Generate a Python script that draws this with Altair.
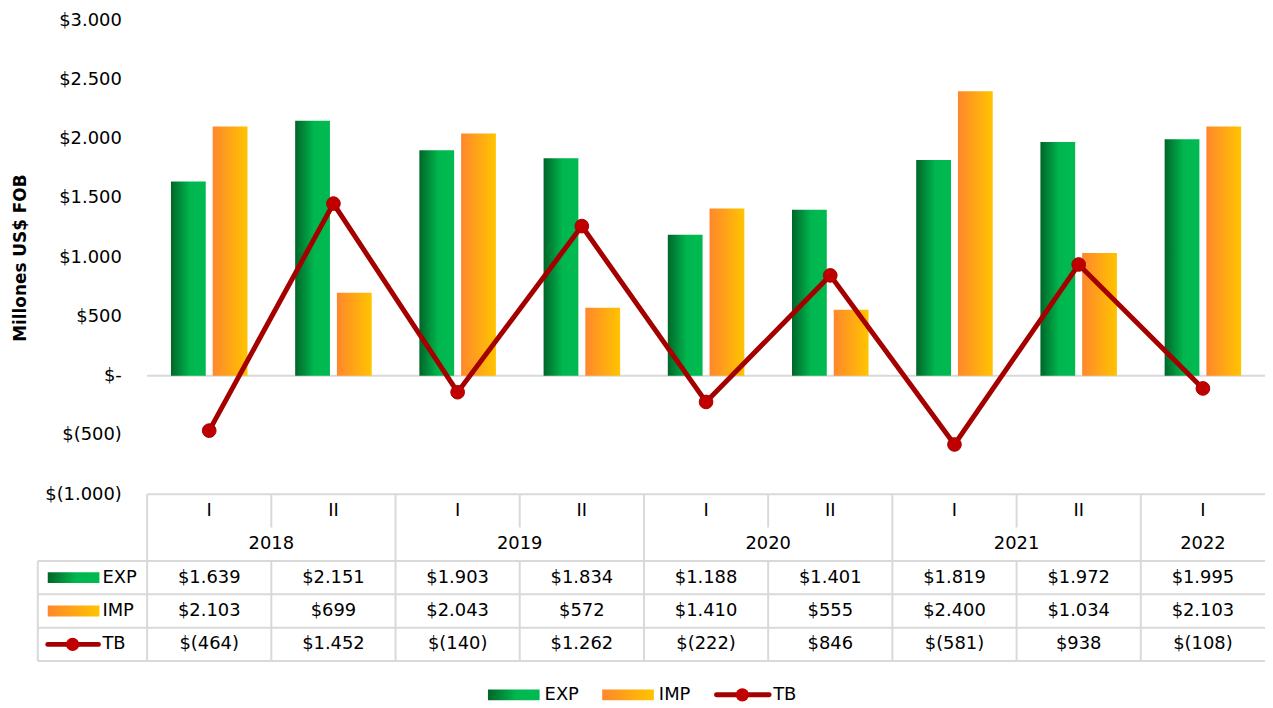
import altair as alt
import pandas as pd

# ---------------- data ----------------
years = ["2018", "2018", "2019", "2019", "2020", "2020", "2021", "2021", "2022"]
periods = ["I", "II", "I", "II", "I", "II", "I", "II", "I"]
exp_vals = [1639, 2151, 1903, 1834, 1188, 1401, 1819, 1972, 1995]
imp_vals = [2103, 699, 2043, 572, 1410, 555, 2400, 1034, 2103]
tb_vals = [-464, 1452, -140, 1262, -222, 846, -581, 938, -108]
y_ticks = [-1000, -500, 0, 500, 1000, 1500, 2000, 2500, 3000]
y_tick_labels = ["$(1.000)", "$(500)", "$-", "$500", "$1.000", "$1.500", "$2.000", "$2.500", "$3.000"]
series = ["EXP", "IMP", "TB"]
table_rows = ["cat", "year", "EXP", "IMP", "TB"]

# ---------------- layout / style ----------------
FONT = "DejaVu Sans"
W = 1125
H = 690
PLOT_H = 477
TABLE_BOTTOM = 645
GRID = "#D9D9D9"

cats = [f"{y}-{p}" for y, p in zip(years, periods)]


def money(v):
    s = f"{abs(v):,}".replace(",", ".")
    return f"$({s})" if v < 0 else f"${s}"


df = pd.DataFrame({"cat": cats, "year": years, "period": periods,
                   "EXP": exp_vals, "IMP": imp_vals, "TB": tb_vals})
long = df.melt(id_vars=["cat", "year", "period"], value_vars=series,
               var_name="series", value_name="value")
long["label"] = long["value"].map(money)

green = alt.Gradient(gradient="linear", x1=0, x2=1, y1=0, y2=0,
                     stops=[alt.GradientStop(color="#006629", offset=0),
                            alt.GradientStop(color="#00B74F", offset=0.55),
                            alt.GradientStop(color="#00BA50", offset=1)])
orange = alt.Gradient(gradient="linear", x1=0, x2=1, y1=0, y2=0,
                      stops=[alt.GradientStop(color="#FF872C", offset=0),
                             alt.GradientStop(color="#FFC400", offset=1)])
RED_LINE = "#A50000"
RED_DOT = "#C00000"
SWATCH = "M-1,-0.21H1V0.21H-1Z"

xsc = alt.Scale(type="band", domain=cats, range=[0, W], paddingInner=0, paddingOuter=0)
ysc = alt.Scale(domain=[-1000, 3000], range=[PLOT_H, 0], nice=False)
tsc = alt.Scale(type="band", domain=table_rows, range=[PLOT_H, TABLE_BOTTOM],
                paddingInner=0, paddingOuter=0)
offsc = alt.Scale(domain=["EXP", "IMP"], paddingInner=0.1667, paddingOuter=0.571)


def X(bp=None, field="cat:N"):
    if bp is None:
        return alt.X(field, scale=xsc, axis=None)
    return alt.X(field, scale=xsc, axis=None, bandPosition=bp)


def TY(field="row:N", bp=None):
    if bp is None:
        return alt.Y(field, scale=tsc, axis=None)
    return alt.Y(field, scale=tsc, axis=None, bandPosition=bp)


label_expr = " : ".join(
    f"datum.value == {v} ? '{t}'" for v, t in zip(y_ticks, y_tick_labels)) + " : ''"

yaxis = alt.Axis(values=y_ticks, labelExpr=label_expr, labelFont=FONT, labelFontSize=18,
                 labelColor="#000000", labelPadding=26, ticks=False, domain=False, grid=False,
                 title="Millones US$ FOB", titleFont=FONT, titleFontSize=17,
                 titleFontWeight="bold", titleColor="#000000", titleX=-127, titleY=239,
                 titleAngle=270, titleAlign="center", titleBaseline="middle")

text_style = dict(font=FONT, fontSize=18, color="#000000", baseline="middle")

# ---------------- plot layers ----------------
zero = alt.Chart(pd.DataFrame({"v": [0]})).mark_rule(color=GRID, strokeWidth=2).encode(
    y=alt.Y("v:Q", scale=ysc, axis=None))

bars_exp = alt.Chart(long).transform_filter(alt.datum.series == "EXP").mark_bar(
    fill=green, strokeWidth=0).encode(
    x=X(), xOffset=alt.XOffset("series:N", scale=offsc),
    y=alt.Y("value:Q", scale=ysc, axis=yaxis))

bars_imp = alt.Chart(long).transform_filter(alt.datum.series == "IMP").mark_bar(
    fill=orange, strokeWidth=0).encode(
    x=X(), xOffset=alt.XOffset("series:N", scale=offsc),
    y=alt.Y("value:Q", scale=ysc, axis=None))

tb_line = alt.Chart(long).transform_filter(alt.datum.series == "TB").mark_line(
    color=RED_LINE, strokeWidth=5).encode(
    x=X(0.5), y=alt.Y("value:Q", scale=ysc, axis=None))

tb_pts = alt.Chart(long).transform_filter(alt.datum.series == "TB").mark_circle(
    size=190, color=RED_DOT, opacity=1, stroke=RED_LINE, strokeWidth=1).encode(
    x=X(0.5), y=alt.Y("value:Q", scale=ysc, axis=None))

# ---------------- table layers ----------------
hl_rows = alt.Chart(pd.DataFrame({"row": ["EXP", "IMP", "TB"]})).mark_rule(
    color=GRID, strokeWidth=2).encode(
    x=alt.value(-110), x2=alt.value(W), y=TY(bp=0))
hl_bottom = alt.Chart(pd.DataFrame({"row": ["TB"]})).mark_rule(
    color=GRID, strokeWidth=2).encode(
    x=alt.value(-110), x2=alt.value(W), y=TY(bp=1))
hl_top = alt.Chart(pd.DataFrame({"row": ["cat"]})).mark_rule(
    color=GRID, strokeWidth=2).encode(
    x=alt.value(0), x2=alt.value(W), y=TY(bp=0))

vl_records = []
for i, c in enumerate(cats):
    if periods[i] == "I":
        vl_records.append({"cat": c, "r0": "cat", "r1": "TB"})
    else:
        vl_records.append({"cat": c, "r0": "cat", "r1": "cat"})
        vl_records.append({"cat": c, "r0": "EXP", "r1": "TB"})
vlines = alt.Chart(pd.DataFrame(vl_records)).mark_rule(color=GRID, strokeWidth=2).encode(
    x=X(0), y=TY("r0:N", bp=0), y2=alt.Y2("r1:N", bandPosition=1))
vl_left = alt.Chart(pd.DataFrame({"r0": ["EXP"], "r1": ["TB"]})).mark_rule(
    color=GRID, strokeWidth=2).encode(
    x=alt.value(-110), y=TY("r0:N", bp=0), y2=alt.Y2("r1:N", bandPosition=1))

period_txt = alt.Chart(df.assign(row="cat")).mark_text(**text_style).encode(
    x=X(0.5), y=TY(), text="period:N")

counts = df["year"].value_counts()
first = df.drop_duplicates("year").assign(row="year")
year_two = alt.Chart(first[first["year"].map(counts) == 2]).mark_text(**text_style).encode(
    x=X(1), y=TY(), text="year:N")
year_one = alt.Chart(first[first["year"].map(counts) == 1]).mark_text(**text_style).encode(
    x=X(0.5), y=TY(), text="year:N")

value_txt = alt.Chart(long).mark_text(**text_style).encode(
    x=X(0.5), y=TY("series:N"), text="label:N")

row_lbl = alt.Chart(pd.DataFrame({"row": series})).mark_text(align="left", **text_style).encode(
    x=alt.value(-45), y=TY(), text="row:N")

sw_exp = alt.Chart(pd.DataFrame({"row": ["EXP"]})).mark_point(
    shape=SWATCH, size=2704, filled=True, fill=green, opacity=1, strokeWidth=0).encode(
    x=alt.value(-74), y=TY())
sw_imp = alt.Chart(pd.DataFrame({"row": ["IMP"]})).mark_point(
    shape=SWATCH, size=2704, filled=True, fill=orange, opacity=1, strokeWidth=0).encode(
    x=alt.value(-74), y=TY())
sw_tb_line = alt.Chart(pd.DataFrame({"row": ["TB"]})).mark_rule(
    color=RED_LINE, strokeWidth=5, strokeCap="round").encode(
    x=alt.value(-100), x2=alt.value(-49), y=TY(bp=0.5))
sw_tb_dot = alt.Chart(pd.DataFrame({"row": ["TB"]})).mark_circle(
    size=180, color=RED_DOT, opacity=1).encode(x=alt.value(-75), y=TY(bp=0.5))

# ---------------- bottom legend ----------------
LEG_Y = 679
leg_exp = alt.Chart(pd.DataFrame({"s": ["EXP"]})).mark_point(
    shape=SWATCH, size=2704, filled=True, fill=green, opacity=1, strokeWidth=0).encode(
    x=alt.value(369), y=alt.value(LEG_Y))
leg_imp = alt.Chart(pd.DataFrame({"s": ["IMP"]})).mark_point(
    shape=SWATCH, size=2704, filled=True, fill=orange, opacity=1, strokeWidth=0).encode(
    x=alt.value(484), y=alt.value(LEG_Y))
leg_tb_line = alt.Chart(pd.DataFrame({"s": ["TB"]})).mark_rule(
    color=RED_LINE, strokeWidth=5, strokeCap="round").encode(
    x=alt.value(573), x2=alt.value(626), y=alt.value(LEG_Y))
leg_tb_dot = alt.Chart(pd.DataFrame({"s": ["TB"]})).mark_circle(
    size=180, color=RED_DOT, opacity=1).encode(x=alt.value(599), y=alt.value(LEG_Y))
leg_txt = alt.Chart(pd.DataFrame({"s": series, "px": [400, 515, 630]})).mark_text(
    align="left", **text_style).encode(
    x=alt.X("px:Q", scale=None), y=alt.value(LEG_Y), text="s:N")

chart = alt.layer(
    zero, bars_exp, bars_imp, tb_line, tb_pts,
    hl_rows, hl_bottom, hl_top, vlines, vl_left,
    period_txt, year_two, year_one, value_txt, row_lbl,
    sw_exp, sw_imp, sw_tb_line, sw_tb_dot,
    leg_exp, leg_imp, leg_tb_line, leg_tb_dot, leg_txt,
).resolve_scale(y="independent").properties(
    width=W, height=H,
    padding={"left": 140, "top": 10, "right": 0, "bottom": 0},
    autosize=alt.AutoSizeParams(type="none"),
    background="white",
).configure_view(strokeWidth=0)

chart.save("out.html", embed_options={"renderer": "svg", "actions": False})
